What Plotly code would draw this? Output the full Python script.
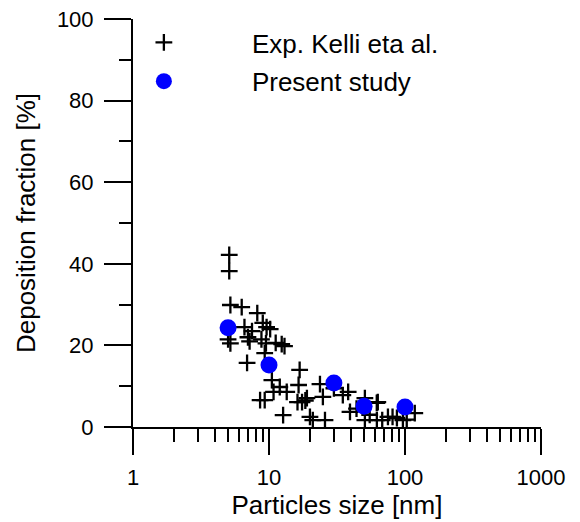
import plotly.graph_objects as go

# Experimental data (Kelli et al.)
kelli_x = [5.1, 5.1, 5.2, 6.3, 8.2, 7.5, 9.0, 9.6, 10.2, 6.6, 7.0, 5.0, 5.2, 7.2, 8.8, 9.5,
           11.2, 13.0, 6.9, 9.3, 12.4, 10.5, 12.0, 13.5, 16.8, 16.5, 17.5, 8.6, 9.3, 10.8,
           16.2, 18.5, 12.7, 20.0, 21.0, 23.7, 24.9, 19.0, 25.8, 34.9, 38.2, 39.4, 50.7,
           63.1, 62.1, 74.9, 87.2, 96.5, 118, 50.7, 62, 55, 68, 81, 103, 30, 44]
kelli_y = [42.2, 38.2, 29.9, 29.4, 27.9, 23.5, 25.5, 24.5, 24.0, 24.5, 22.0, 21.5, 20.5,
           21.0, 21.5, 20.5, 20.6, 19.8, 15.7, 18.1, 20.3, 11.5, 9.8, 8.6, 14.0, 10.3, 6.1,
           6.6, 6.6, 8.6, 6.1, 6.5, 2.9, 2.5, 1.7, 10.5, 7.4, 7.1, 1.7, 7.8, 8.6, 3.7, 1.7,
           6.1, 1.7, 2.5, 2.2, 1.7, 3.4, 7.1, 5.9, 3.0, 1.7, 2.5, 1.8, 9.5, 4.5]

# Present study
present_x = [5, 10, 30, 50, 100]
present_y = [24.3, 15.2, 10.8, 5.1, 4.9]

x_major = [1, 10, 100, 1000]
x_minor = [m * d for d in [1, 10, 100] for m in range(2, 10)]

FONT = "Liberation Sans, Arial, sans-serif"

fig = go.Figure()
fig.add_trace(go.Scatter(
    x=kelli_x, y=kelli_y, mode="markers", name="Exp. Kelli eta al.",
    marker=dict(symbol="cross-thin", size=12, color="black",
                line=dict(color="black", width=2.3)),
    legendgroup="a",
))
fig.add_trace(go.Scatter(
    x=present_x, y=present_y, mode="markers", name="Present study",
    marker=dict(symbol="circle", size=17, color="#0000ff", line=dict(width=0)),
    legendgroup="b",
))

fig.update_layout(
    width=580, height=522,
    margin=dict(l=133, r=39, t=19, b=95),
    plot_bgcolor="white", paper_bgcolor="white",
    font=dict(family=FONT, size=22, color="black"),
    showlegend=True,
    legend=dict(
        x=-0.14, y=1.0, xanchor="left", yanchor="top",
        bgcolor="rgba(0,0,0,0)", font=dict(size=26, color="black", family=FONT),
        itemwidth=166, tracegroupgap=2, traceorder="grouped",
    ),
)

fig.update_xaxes(
    type="log", range=[0, 3], automargin=False,
    showgrid=False, zeroline=False,
    showline=True, linecolor="black", linewidth=2,
    ticks="outside", ticklen=26, tickwidth=2, tickcolor="black",
    tickmode="array", tickvals=x_major, ticktext=[str(v) for v in x_major],
    ticklabelstandoff=4,
    minor=dict(tickmode="array", tickvals=x_minor, ticks="outside",
               ticklen=13, tickwidth=2, tickcolor="black", showgrid=False),
    title=dict(text="Particles size [nm]", font=dict(size=26), standoff=2),
)
fig.update_yaxes(
    range=[0, 100], automargin=False,
    showgrid=False, zeroline=False,
    showline=True, linecolor="black", linewidth=2,
    ticks="outside", ticklen=27, tickwidth=2, tickcolor="black",
    tickmode="linear", tick0=0, dtick=20,
    ticklabelstandoff=6,
    minor=dict(tickmode="linear", tick0=0, dtick=10, ticks="outside",
               ticklen=12, tickwidth=2, tickcolor="black", showgrid=False),
    title=dict(text="Deposition fraction [%]", font=dict(size=26), standoff=14),
)

fig.write_html("out.html")
